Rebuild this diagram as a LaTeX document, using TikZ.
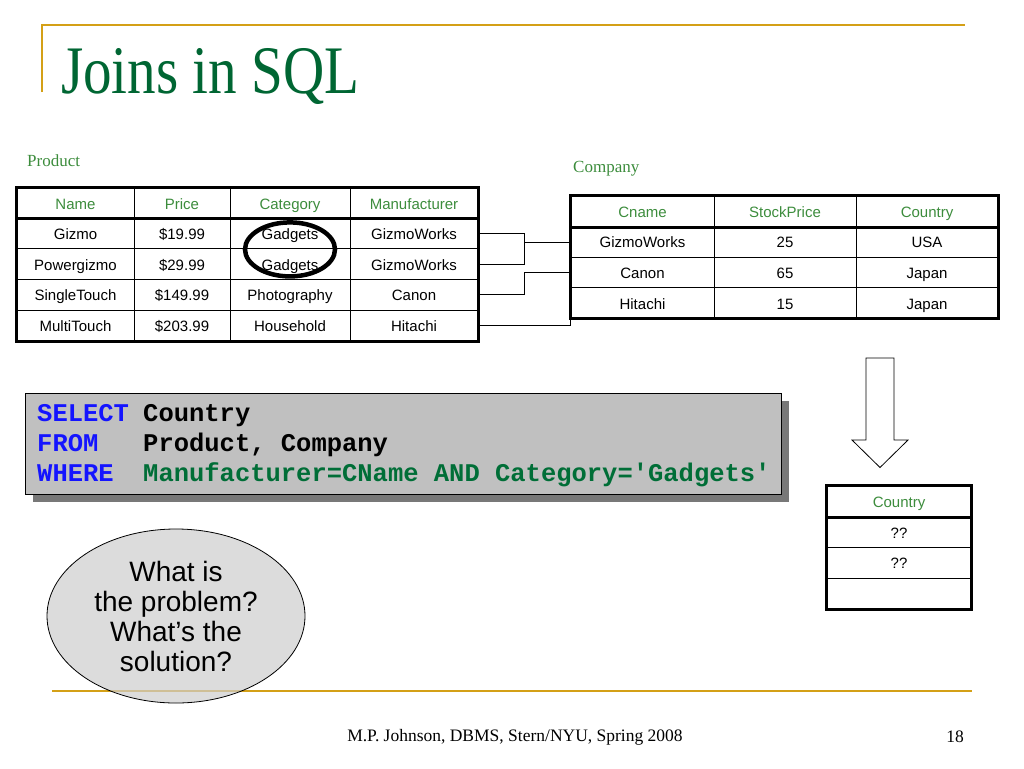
\documentclass[tikz,border=0pt]{standalone}
\usepackage{graphicx}
\usepackage{fontspec}
\setmainfont{Liberation Serif}
\setsansfont{Liberation Sans}
\setmonofont{Liberation Mono}
\usetikzlibrary{shapes.geometric,shadows}
\definecolor{gold}{RGB}{212,160,23}
\definecolor{titlegreen}{RGB}{0,102,51}
\definecolor{headgreen}{RGB}{60,140,60}
\definecolor{sqlgreen}{RGB}{0,110,55}
\definecolor{sqlblue}{RGB}{20,20,255}
\definecolor{sqlgray}{RGB}{192,192,192}
\definecolor{shadowgray}{RGB}{120,120,120}
\definecolor{bubblegray}{RGB}{205,205,205}
\tikzset{
  cell/.style={draw,line width=1pt,inner sep=0pt,minimum height=30.6pt,text height=12pt,text depth=0pt,font=\sffamily\fontsize{15}{18}\selectfont},
  tablabel/.style={anchor=west,inner sep=0pt,text=headgreen,font=\fontsize{17}{20}\selectfont},
  code/.style={anchor=base west,inner sep=0pt,font=\ttfamily\bfseries\fontsize{25.5}{30}\selectfont},
}
\begin{document}
\begin{tikzpicture}[x=1pt,y=-1pt]
  \useasboundingbox (0,0) rectangle (1024,768);
  \draw[gold,line width=2.5pt](42,92)--(42,25)--(965,25);
  \node[anchor=base west,inner sep=0pt,text=titlegreen,font=\fontsize{68}{70}\selectfont] (title) at (61,93) {\scalebox{.84}[1]{Joins in SQL}};

  \node[tablabel] (prodlabel) at (27,161) {Product};
  \foreach \na/\pr/\ca/\ma [count=\r from 0] in {Name/Price/Category/Manufacturer,Gizmo/\$19.99/Gadgets/GizmoWorks,Powergizmo/\$29.99/Gadgets/GizmoWorks,SingleTouch/\$149.99/Photography/Canon,MultiTouch/\$203.99/Household/Hitachi}{
    \ifnum\r=0 \def\tc{headgreen}\else\def\tc{black}\fi
    \node[cell,text=\tc,minimum width=117pt] (p-\r-1) at (75.5,203+30.6*\r) {\na};
    \node[cell,text=\tc,minimum width=96pt] (p-\r-2) at (182,203+30.6*\r) {\pr};
    \node[cell,text=\tc,minimum width=120pt] (p-\r-3) at (290,203+30.6*\r) {\ca};
    \node[cell,text=\tc,minimum width=128pt] (p-\r-4) at (414,203+30.6*\r) {\ma};
  }
  \draw[line width=3pt](p-0-1.north west) rectangle (p-4-4.south east);
  \draw[line width=3pt](p-0-1.south west)--(p-0-4.south east);
  \node[ellipse,draw,line width=4.5pt,minimum width=90pt,minimum height=54pt] (ring) at (p-1-3.south) {};

  \node[tablabel] (complabel) at (573,169) {Company};
  \foreach \na/\st/\co [count=\r from 0] in {Cname/StockPrice/Country,GizmoWorks/25/USA,Canon/65/Japan,Hitachi/15/Japan}{
    \ifnum\r=0 \def\tc{headgreen}\else\def\tc{black}\fi
    \node[cell,text=\tc,minimum width=143pt] (c-\r-1) at (642.5,211.3+30.6*\r) {\na};
    \node[cell,text=\tc,minimum width=142pt] (c-\r-2) at (785,211.3+30.6*\r) {\st};
    \node[cell,text=\tc,minimum width=142pt] (c-\r-3) at (927,211.3+30.6*\r) {\co};
  }
  \draw[line width=3pt](c-0-1.north west) rectangle (c-3-3.south east);
  \draw[line width=3pt](c-0-1.south west)--(c-0-3.south east);

  \coordinate (fork) at (524,0);
  \draw[line width=.8pt](p-1-4.east)--(p-1-4.east -| fork)--(p-2-4.east -| fork)--(p-2-4.east);
  \draw[line width=.8pt](fork |- c-1-1.west)--(c-1-1.west);
  \draw[line width=.8pt](p-3-4.east)--(p-3-4.east -| fork)--(fork |- c-2-1.west)--(c-2-1.west);
  \draw[line width=.8pt](p-4-4.east) -| (c-3-1.south west);

  \node[draw,fill=sqlgray,line width=.8pt,minimum width=756pt,minimum height=101pt,drop shadow={shadow xshift=8pt,shadow yshift=-8pt,fill=shadowgray,opacity=1}] (sqlbox) at (403,443.5) {};
  \foreach \k/\q/\qc [count=\i from 0] in {SELECT/Country/black,FROM/{Product, Company}/black,WHERE/{Manufacturer=CName AND Category='Gadgets'}/sqlgreen}{
    \node[code,text=sqlblue] (kw-\i) at (37,421+30*\i) {\k};
    \node[code,text=\qc] (cl-\i) at (143,421+30*\i) {\q};
  }

  \draw[line width=.8pt,fill=white](866,358)--(894,358)--(894,440)--(908,440)--(880,467.5)--(852,440)--(866,440)--cycle;
  \foreach \v [count=\r from 0] in {Country,??,??,{}}{
    \ifnum\r=0 \def\tc{headgreen}\else\def\tc{black}\fi
    \node[cell,text=\tc,minimum width=144pt] (r-\r) at (899,501.4+30.7*\r) {\v};
  }
  \draw[line width=3pt](r-0.north west) rectangle (r-3.south east);
  \draw[line width=3pt](r-0.south west)--(r-0.south east);

  \draw[gold,line width=2.5pt](52,691)--(972,691);
  \node[ellipse,draw,line width=.8pt,fill=bubblegray,fill opacity=.7,text opacity=1,inner sep=0pt,minimum width=258pt,minimum height=174pt,align=center,font=\sffamily\fontsize{28}{30}\selectfont] (bubble) at (176,616) {What is\\the problem?\\What’s the\\solution?};
  \node[font=\fontsize{17.5}{20}\selectfont] (foot) at (515,737) {M.P. Johnson, DBMS, Stern/NYU, Spring 2008};
  \node[font=\fontsize{17.5}{20}\selectfont] (page) at (955,737) {18};
\end{tikzpicture}
\end{document}
